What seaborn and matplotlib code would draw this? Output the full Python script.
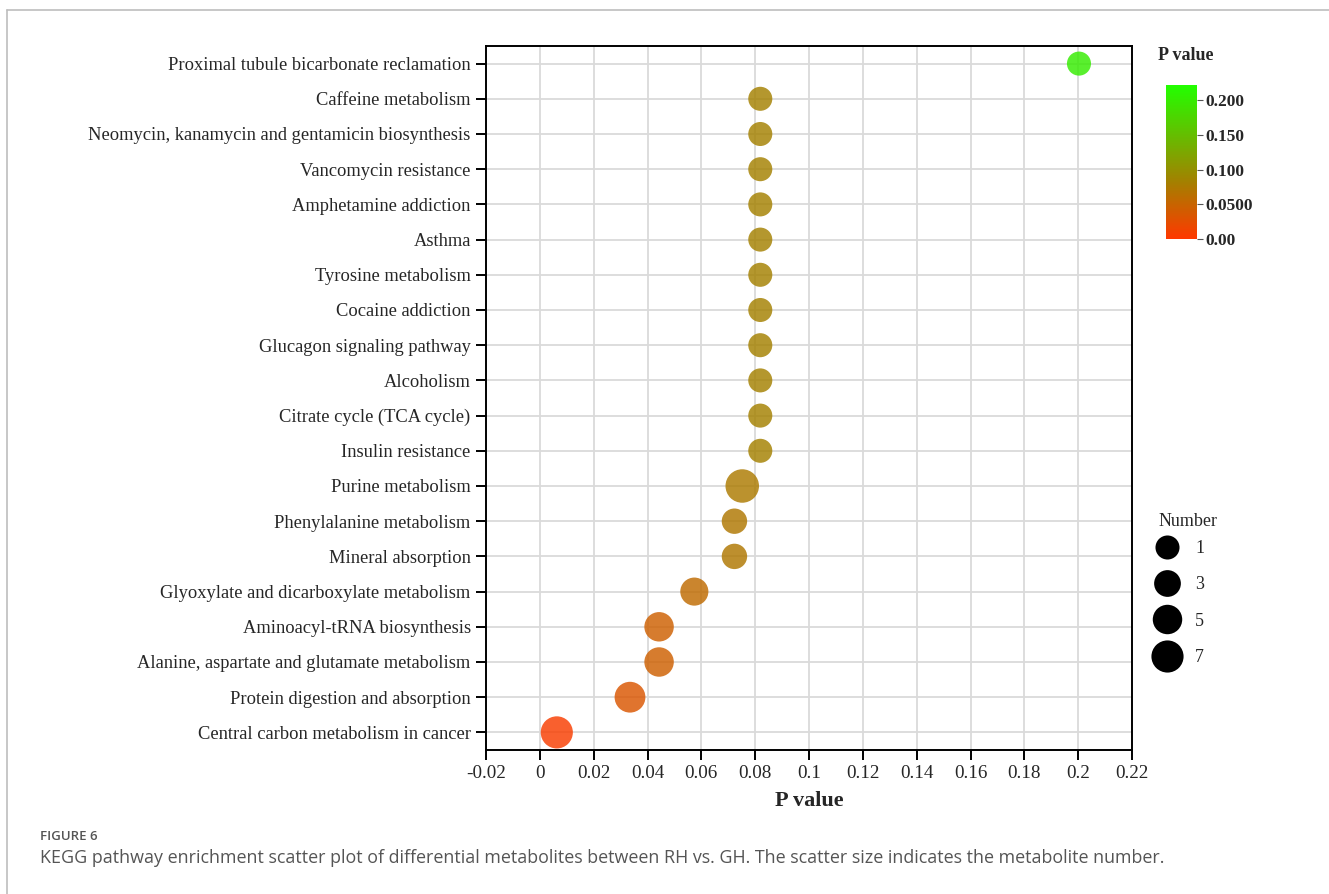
import numpy as np
import pandas as pd
import matplotlib
matplotlib.use("Agg")
import matplotlib.pyplot as plt
import seaborn as sns
from matplotlib.colors import LinearSegmentedColormap, Normalize
from matplotlib.lines import Line2D
import matplotlib.colorbar as mcolorbar

# KEGG pathways, listed top to bottom
pathways = [
    "Proximal tubule bicarbonate reclamation",
    "Caffeine metabolism",
    "Neomycin, kanamycin and gentamicin biosynthesis",
    "Vancomycin resistance",
    "Amphetamine addiction",
    "Asthma",
    "Tyrosine metabolism",
    "Cocaine addiction",
    "Glucagon signaling pathway",
    "Alcoholism",
    "Citrate cycle (TCA cycle)",
    "Insulin resistance",
    "Purine metabolism",
    "Phenylalanine metabolism",
    "Mineral absorption",
    "Glyoxylate and dicarboxylate metabolism",
    "Aminoacyl-tRNA biosynthesis",
    "Alanine, aspartate and glutamate metabolism",
    "Protein digestion and absorption",
    "Central carbon metabolism in cancer",
]
p_values = [0.2003, 0.0819, 0.0819, 0.0819, 0.0819, 0.0819, 0.0819, 0.0819,
            0.0819, 0.0819, 0.0819, 0.0819, 0.0752, 0.0723, 0.0723, 0.0574,
            0.0443, 0.0443, 0.0335, 0.0063]
numbers = [1, 1, 1, 1, 1, 1, 1, 1, 1, 1, 1, 1, 8, 2, 2, 4, 5, 5, 6, 7]

legend_numbers = [1, 3, 5, 7]
x_ticks = [-0.02, 0, 0.02, 0.04, 0.06, 0.08, 0.1, 0.12, 0.14, 0.16, 0.18, 0.2, 0.22]
cbar_ticks = [0.0, 0.05, 0.10, 0.15, 0.20]
cbar_labels = ["0.00", "0.0500", "0.100", "0.150", "0.200"]

df = pd.DataFrame({"Pathway": pathways, "P value": p_values, "Number": numbers})

W, H, DPI = 1329, 894, 100
PX = 72.0 / DPI  # points per pixel


def marker_diam_px(n):
    return 22.7 + 1.35 * n


size_map = {n: (marker_diam_px(n) * PX) ** 2 for n in sorted(set(numbers) | set(legend_numbers))}

cmap = LinearSegmentedColormap.from_list(
    "pval", [(0.0, "#FF3800"), (0.36, "#A67E00"), (1.0, "#22FF00")])
vmax = 0.2216
norm = Normalize(0, vmax)

sns.set_theme(style="white")
plt.rcParams["font.family"] = ["Liberation Serif", "DejaVu Serif"]

fig = plt.figure(figsize=(W / DPI, H / DPI), dpi=DPI)
ax = fig.add_axes([486 / W, 1 - 750 / H, (1132 - 486) / W, (750 - 46) / H])

ax.grid(True, color="#DADADA", linewidth=1.3)
ax.set_axisbelow(True)

sns.scatterplot(
    data=df, x="P value", y="Pathway", hue="P value", size="Number",
    palette=cmap, hue_norm=norm, sizes=size_map, alpha=0.82,
    linewidth=0, legend=False, ax=ax, zorder=3,
)

ax.set_xlim(-0.02, 0.22)
ax.set_ylim(19.5, -0.5)
ax.set_xticks(x_ticks)
ax.set_xticklabels([f"{t:g}" for t in x_ticks], fontsize=13.8)
ax.tick_params(axis="y", labelsize=13.3, length=7, width=1.4, color="black",
               left=True, pad=4)
ax.tick_params(axis="x", length=7, width=1.4, color="black", bottom=True, pad=4)
ax.set_ylabel("")
ax.set_xlabel("P value", fontsize=16, fontweight="bold", labelpad=6)
for side in ["left", "bottom", "right", "top"]:
    ax.spines[side].set_visible(True)
    ax.spines[side].set_color("black")
    ax.spines[side].set_linewidth(1.4)

# colour bar for P value
cax = fig.add_axes([1166 / W, 1 - 239 / H, 31 / W, (239 - 85) / H])
cb = mcolorbar.ColorbarBase(cax, cmap=cmap, norm=norm, orientation="vertical")
cb.outline.set_visible(False)
cb.set_ticks(cbar_ticks)
cb.set_ticklabels(cbar_labels)
cax.tick_params(length=4, width=0.8, color="#555555", labelsize=12.5, pad=2)
for lbl in cax.get_yticklabels():
    lbl.set_fontweight("bold")
fig.text(1158 / W, 1 - 56 / H, "P value", fontsize=13, fontweight="bold",
         ha="left", va="center")

# size legend
fig.text(1159 / W, 1 - 521 / H, "Number", fontsize=13, ha="left", va="center")
handles = [Line2D([], [], linestyle="none", marker="o", color="black",
                  markeredgewidth=0, markersize=marker_diam_px(n) * PX)
           for n in legend_numbers]
leg = fig.legend(handles, [str(n) for n in legend_numbers],
                 loc="upper left", bbox_to_anchor=(1149 / W, 1 - 540 / H),
                 frameon=False, fontsize=13,
                 handletextpad=0.55, labelspacing=1.07, borderaxespad=0,
                 borderpad=0)

# page frame and caption
fig.add_artist(Line2D([7 / W, 1.0], [1 - 10 / H, 1 - 10 / H], color="#BDBDBD", lw=1.2))
fig.add_artist(Line2D([7 / W, 7 / W], [1 - 10 / H, 0.0], color="#BDBDBD", lw=1.2))
fig.text(40 / W, 1 - 836 / H, "FIGURE 6", fontsize=9.5, color="#555555",
         family="Open Sans", fontweight="semibold", ha="left", va="center")
fig.text(40 / W, 1 - 858 / H,
         "KEGG pathway enrichment scatter plot of differential metabolites between RH vs. GH. "
         "The scatter size indicates the metabolite number.",
         fontsize=12.9, color="#555555", family="Open Sans", ha="left", va="center")

fig.savefig("out.png", dpi=DPI)
